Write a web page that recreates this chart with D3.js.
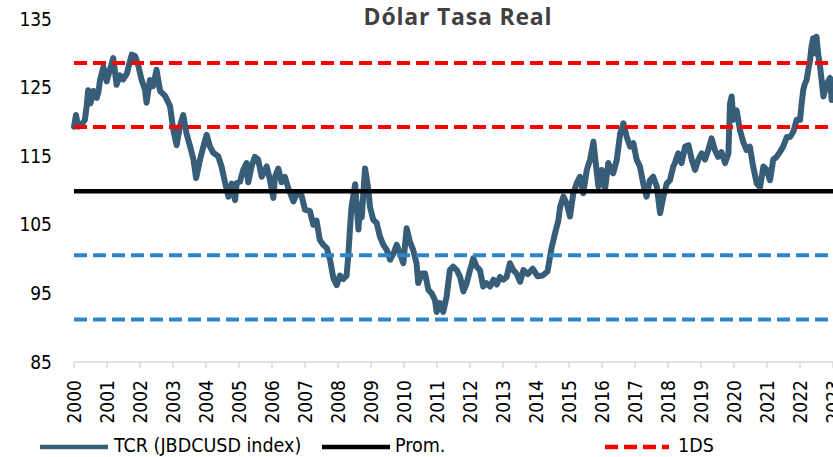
<!DOCTYPE html>
<html>
<head>
<meta charset="utf-8">
<script src="https://cdn.jsdelivr.net/npm/d3@7"></script>
<style>
  body { margin: 0; background: #fff; }
  text { font-family: "DejaVu Sans Condensed", "DejaVu Sans", sans-serif; }
</style>
</head>
<body>
<script>
(function () {

// fechas en años decimales
var tcrYears = [
  2000.00, 2000.06, 2000.13, 2000.23, 2000.33, 2000.38, 2000.43, 2000.50, 2000.59, 2000.69,
  2000.74, 2000.79, 2000.89, 2000.99, 2001.09, 2001.19, 2001.29, 2001.39, 2001.49, 2001.60,
  2001.65, 2001.75, 2001.85, 2001.95, 2002.05, 2002.15, 2002.20, 2002.30, 2002.40, 2002.50,
  2002.61, 2002.76, 2002.91, 2003.01, 2003.11, 2003.21, 2003.31, 2003.41, 2003.52, 2003.62,
  2003.70, 2003.82, 2003.92, 2004.02, 2004.12, 2004.22, 2004.37, 2004.47, 2004.58, 2004.68,
  2004.78, 2004.88, 2004.93, 2005.03, 2005.13, 2005.23, 2005.28, 2005.38, 2005.48, 2005.58,
  2005.69, 2005.84, 2005.94, 2006.04, 2006.09, 2006.19, 2006.29, 2006.39, 2006.49, 2006.65,
  2006.75, 2006.90, 2007.00, 2007.15, 2007.25, 2007.35, 2007.45, 2007.55, 2007.66, 2007.76,
  2007.86, 2007.96, 2008.06, 2008.16, 2008.26, 2008.31, 2008.36, 2008.41, 2008.52, 2008.62,
  2008.67, 2008.72, 2008.82, 2008.92, 2008.97, 2009.07, 2009.17, 2009.27, 2009.37, 2009.48,
  2009.58, 2009.68, 2009.78, 2009.88, 2009.98, 2010.08, 2010.18, 2010.28, 2010.38, 2010.43,
  2010.54, 2010.64, 2010.74, 2010.84, 2010.94, 2010.99, 2011.09, 2011.19, 2011.29, 2011.39,
  2011.49, 2011.60, 2011.70, 2011.80, 2011.90, 2012.00, 2012.10, 2012.20, 2012.30, 2012.40,
  2012.50, 2012.61, 2012.71, 2012.81, 2012.91, 2013.01, 2013.11, 2013.21, 2013.31, 2013.41,
  2013.52, 2013.62, 2013.75, 2013.90, 2014.05, 2014.20, 2014.35, 2014.47, 2014.58, 2014.68,
  2014.73, 2014.83, 2014.93, 2015.03, 2015.13, 2015.23, 2015.33, 2015.43, 2015.54, 2015.64,
  2015.74, 2015.79, 2015.89, 2015.99, 2016.09, 2016.19, 2016.34, 2016.45, 2016.55, 2016.65,
  2016.75, 2016.85, 2016.95, 2017.05, 2017.15, 2017.25, 2017.35, 2017.45, 2017.55, 2017.66,
  2017.76, 2017.86, 2017.96, 2018.06, 2018.16, 2018.21, 2018.31, 2018.41, 2018.52, 2018.62,
  2018.72, 2018.82, 2018.92, 2019.02, 2019.12, 2019.22, 2019.32, 2019.42, 2019.52, 2019.62,
  2019.73, 2019.83, 2019.88, 2019.93, 2019.98, 2020.08, 2020.18, 2020.28, 2020.38, 2020.48,
  2020.58, 2020.69, 2020.79, 2020.89, 2020.99, 2021.09, 2021.19, 2021.29, 2021.39, 2021.49,
  2021.60, 2021.70, 2021.80, 2021.90, 2022.00, 2022.05, 2022.10, 2022.15, 2022.20, 2022.25,
  2022.30, 2022.35, 2022.40, 2022.45, 2022.50, 2022.55, 2022.61, 2022.71, 2022.81, 2022.91,
  2022.96, 2023.02
]

var tcrValues = [
  119.3, 121.0, 119.3, 119.6, 120.3, 122.2, 124.6, 122.7, 124.5, 123.5,
  124.4, 126.1, 128.0, 125.9, 127.6, 129.3, 125.4, 126.8, 126.2, 127.0,
  128.0, 129.8, 129.6, 128.2, 126.1, 124.7, 122.8, 126.1, 125.2, 127.6,
  124.5, 123.8, 122.3, 118.8, 116.6, 119.4, 121.0, 118.3, 116.4, 114.5,
  111.8, 114.5, 116.4, 118.1, 116.4, 115.5, 115.0, 113.5, 111.1, 109.1,
  111.0, 108.6, 111.1, 111.3, 113.0, 114.0, 111.2, 113.5, 114.9, 114.5,
  112.0, 113.5, 111.5, 108.9, 112.0, 113.2, 111.2, 112.0, 110.4, 108.4,
  109.6, 109.2, 107.2, 107.0, 105.0, 105.6, 102.8, 102.1, 101.6, 99.9,
  97.2, 96.2, 97.6, 97.1, 97.6, 100.4, 104.2, 107.6, 110.9, 104.3,
  108.0, 106.1, 113.2, 110.1, 107.6, 105.7, 105.3, 103.3, 102.1, 101.3,
  99.9, 100.8, 102.1, 100.8, 99.4, 104.5, 102.5, 101.3, 99.4, 96.5,
  97.9, 97.9, 95.5, 95.0, 94.0, 92.3, 93.6, 92.3, 94.5, 98.4,
  98.9, 98.4, 97.4, 95.3, 96.5, 98.4, 100.1, 98.9, 98.4, 96.0,
  96.5, 96.0, 97.0, 96.3, 97.4, 97.0, 97.4, 99.4, 98.4, 97.9,
  96.7, 98.4, 97.8, 98.6, 97.5, 97.6, 98.2, 101.6, 103.8, 105.7,
  107.6, 109.1, 108.1, 106.2, 109.6, 111.0, 112.0, 109.6, 113.0, 114.5,
  117.1, 114.9, 110.6, 113.0, 110.1, 114.0, 112.5, 114.5, 118.3, 119.8,
  117.8, 116.4, 116.9, 114.5, 113.5, 111.0, 109.1, 111.5, 112.0, 110.6,
  106.7, 109.1, 111.0, 111.5, 113.5, 114.0, 115.4, 114.0, 116.4, 116.6,
  114.5, 113.0, 114.5, 115.4, 114.5, 115.9, 117.6, 115.9, 114.9, 115.6,
  114.0, 115.4, 122.7, 123.7, 120.3, 121.7, 118.8, 117.1, 115.9, 116.4,
  113.5, 111.0, 110.5, 113.5, 113.0, 111.5, 114.5, 114.9, 115.6, 116.4,
  117.8, 117.8, 118.6, 120.3, 120.3, 122.7, 124.7, 125.6, 126.1, 127.6,
  128.8, 131.0, 132.2, 130.0, 132.4, 129.9, 128.0, 123.7, 125.6, 126.4,
  123.2, 124.5
]

var promValue = 109.9
var sdUpper = [119.25, 128.6]
var sdLower = [100.55, 91.2]
var yTicks = [85, 95, 105, 115, 125, 135]
var yearTicks = d3.range(2000, 2024)
var legendNames = ["TCR (JBDCUSD index)", "Prom.", "1DS"]

var width = 833,
    height = 457

var svg = d3.select("body")
  .append("svg")
  .attr("width", width)
  .attr("height", height)

var x = d3.scaleLinear().domain([2000, 2023]).range([74, 833])
var y = d3.scaleLinear().domain([85, 135]).range([362, 19])

var colTcr = "#375d78",
    colRed = "#ff0000",
    colBlue = "#2e86c8"

// titulo
svg.append("text")
  .attr("x", 458)
  .attr("y", 25)
  .attr("text-anchor", "middle")
  .style("font-family", "'Open Sans', sans-serif")
  .style("font-weight", 700)
  .style("font-size", "23px")
  .style("letter-spacing", "0.8px")
  .attr("fill", "#404040")
  .text("Dólar Tasa Real")

// eje y, solo etiquetas
svg.selectAll(".ylab")
  .data(yTicks)
  .enter().append("text")
  .attr("class", "ylab")
  .attr("x", 52)
  .attr("y", function(d) { return y(d) })
  .attr("dy", "0.35em")
  .attr("text-anchor", "end")
  .style("font-size", "19px")
  .attr("fill", "#000")
  .text(function(d) { return d })

// eje x
svg.append("line")
  .attr("x1", x(2000))
  .attr("x2", width)
  .attr("y1", y(85))
  .attr("y2", y(85))
  .attr("stroke", "#d9d9d9")
  .attr("stroke-width", 1.5)

svg.selectAll(".xtick")
  .data(yearTicks)
  .enter().append("line")
  .attr("class", "xtick")
  .attr("x1", function(d) { return x(d) })
  .attr("x2", function(d) { return x(d) })
  .attr("y1", y(85))
  .attr("y2", y(85) + 6)
  .attr("stroke", "#d9d9d9")
  .attr("stroke-width", 1.5)

// 2023 queda cortado en el borde, igual que en el original
svg.selectAll(".xlab")
  .data(yearTicks)
  .enter().append("text")
  .attr("class", "xlab")
  .attr("transform", function(d) { return "translate(" + x(d) + " 380) rotate(-90)" })
  .attr("dy", "0.35em")
  .attr("text-anchor", "end")
  .style("font-size", "19px")
  .attr("fill", "#000")
  .text(function(d) { return d })

// serie
var tcr = tcrYears.map(function(d, i) { return [d, tcrValues[i]] })

var line = d3.line()
  .x(function(d) { return x(d[0]) })
  .y(function(d) { return y(d[1]) })

svg.append("path")
  .datum(tcr)
  .attr("d", line)
  .attr("fill", "none")
  .attr("stroke", colTcr)
  .attr("stroke-width", 6)
  .attr("stroke-linejoin", "round")
  .attr("stroke-linecap", "round")

// lineas de referencia, encima de la serie
function refLine(v, color, dashed) {
  var l = svg.append("line")
    .attr("x1", x(2000))
    .attr("x2", width)
    .attr("y1", y(v))
    .attr("y2", y(v))
    .attr("stroke", color)
    .attr("stroke-width", dashed ? 4 : 4.5)
  if (dashed) l.attr("stroke-dasharray", "13,6")
  return l
}

sdLower.forEach(function(v) { refLine(v, colBlue, true) })
refLine(promValue, "#000", false)
sdUpper.forEach(function(v) { refLine(v, colRed, true) })

// leyenda
var legend = [
  { name: legendNames[0], x1: 40, x2: 108, tx: 114, color: colTcr, dash: null },
  { name: legendNames[1], x1: 322, x2: 390, tx: 395, color: "#000", dash: null },
  { name: legendNames[2], x1: 605, x2: 669, tx: 678, color: colRed, dash: "13,6" }
]

var lg = svg.selectAll(".leg")
  .data(legend)
  .enter().append("g")
  .attr("class", "leg")

lg.append("line")
  .attr("x1", function(d) { return d.x1 })
  .attr("x2", function(d) { return d.x2 })
  .attr("y1", 447)
  .attr("y2", 447)
  .attr("stroke", function(d) { return d.color })
  .attr("stroke-width", 4.5)
  .attr("stroke-dasharray", function(d) { return d.dash })

lg.append("text")
  .attr("x", function(d) { return d.tx })
  .attr("y", 452)
  .style("font-size", "19.5px")
  .attr("fill", "#000")
  .text(function(d) { return d.name })

}())
</script>
</body>
</html>
